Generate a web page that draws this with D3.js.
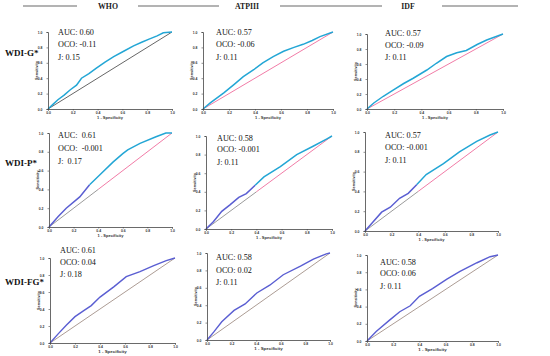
<!DOCTYPE html>
<html><head><meta charset="utf-8">
<script src="https://cdn.jsdelivr.net/npm/d3@7/dist/d3.min.js"></script>
<style>
html,body{margin:0;padding:0;background:#fff;}
svg{display:block;}
.ann{font-family:"Liberation Serif","DejaVu Serif",serif;font-size:8.2px;fill:#111;white-space:pre;}
.tick text{font-family:"Liberation Sans",Arial,sans-serif;font-size:3.4px;font-weight:bold;fill:#333;}
.lab{font-family:"Liberation Sans",Arial,sans-serif;font-weight:bold;fill:#333;}
</style></head><body>
<script>
// ---------- data ----------
const columns = ["WHO", "ATPIII", "IDF"];
const rowLabels = ["WDI-G*", "WDI-P*", "WDI-FG*"];
const aucLabels = [["AUC: 0.60","AUC: 0.57","AUC: 0.57"],["AUC:  0.61","AUC: 0.58","AUC: 0.57"],["AUC: 0.61","AUC: 0.58","AUC: 0.58"]];
const ocoLabels = [["OCO: -0.11","OCO: -0.06","OCO: -0.09"],["OCO:  -0.001","OCO: -0.001","OCO: -0.001"],["OCO: 0.04","OCO: 0.02","OCO: 0.06"]];
const jLabels   = [["J: 0.15","J: 0.11","J: 0.11"],["J:  0.17","J: 0.11","J: 0.11"],["J: 0.18","J: 0.11","J: 0.11"]];
const tickValues = [0, 0.2, 0.4, 0.6, 0.8, 1.0];

// ROC curves: [1 - specificity, sensitivity]
const rocG_WHO    = [[0,0],[0.04,0.06],[0.08,0.12],[0.13,0.18],[0.18,0.25],[0.23,0.31],[0.27,0.40],[0.33,0.46],[0.39,0.53],[0.46,0.61],[0.53,0.68],[0.61,0.75],[0.69,0.82],[0.76,0.87],[0.82,0.91],[0.88,0.95],[0.93,0.99],[1,1]];
const rocG_ATPIII = [[0,0],[0.056,0.08],[0.16,0.21],[0.24,0.32],[0.31,0.42],[0.39,0.51],[0.46,0.60],[0.54,0.68],[0.62,0.75],[0.70,0.80],[0.77,0.84],[0.84,0.89],[0.90,0.94],[1,1]];
const rocG_IDF    = [[0,0],[0.05,0.08],[0.12,0.17],[0.195,0.255],[0.27,0.34],[0.34,0.41],[0.44,0.52],[0.51,0.61],[0.585,0.70],[0.66,0.75],[0.73,0.78],[0.81,0.86],[0.88,0.92],[1,1]];
const rocP_WHO    = [[0,0],[0.073,0.11],[0.14,0.20],[0.25,0.32],[0.33,0.45],[0.41,0.55],[0.52,0.69],[0.60,0.78],[0.64,0.82],[0.74,0.89],[0.87,0.96],[0.95,1.0],[1,1]];
const rocP_ATPIII = [[0,0],[0.06,0.08],[0.125,0.19],[0.19,0.26],[0.26,0.34],[0.32,0.38],[0.39,0.47],[0.46,0.56],[0.59,0.67],[0.72,0.80],[0.85,0.89],[0.96,0.97],[1,1]];
const rocP_IDF    = [[0,0],[0.06,0.09],[0.125,0.19],[0.19,0.24],[0.26,0.33],[0.325,0.38],[0.39,0.47],[0.46,0.57],[0.59,0.68],[0.71,0.80],[0.84,0.905],[0.94,0.97],[1,1]];
const rocFG_WHO   = [[0,0],[0.067,0.11],[0.13,0.21],[0.20,0.31],[0.27,0.38],[0.33,0.44],[0.40,0.54],[0.51,0.66],[0.61,0.78],[0.72,0.84],[0.83,0.91],[0.93,0.97],[1,1]];
const rocFG_ATPIII= [[0,0],[0.054,0.09],[0.12,0.21],[0.22,0.34],[0.31,0.415],[0.405,0.54],[0.51,0.63],[0.62,0.75],[0.76,0.85],[0.865,0.93],[0.97,0.99],[1,1]];
const rocFG_IDF   = [[0,0],[0.07,0.11],[0.17,0.24],[0.25,0.34],[0.33,0.41],[0.40,0.52],[0.50,0.61],[0.61,0.72],[0.71,0.81],[0.84,0.91],[0.94,0.98],[1,1]];
const rocCurves = [[rocG_WHO,rocG_ATPIII,rocG_IDF],[rocP_WHO,rocP_ATPIII,rocP_IDF],[rocFG_WHO,rocFG_ATPIII,rocFG_IDF]];
const reference = [[0,0],[1,1]];

// ---------- layout ----------
const W = 550, H = 356;
const frames = [
  [{x0:48,x1:172,t:32,b:109},{x0:203,x1:333,t:32,b:109},{x0:367,x1:503,t:34,b:109}],
  [{x0:49,x1:172,t:133,b:227},{x0:206,x1:332,t:136,b:229},{x0:365,x1:498,t:132,b:231}],
  [{x0:50,x1:175,t:258,b:343},{x0:207,x1:330,t:253,b:340},{x0:367,x1:498,t:255,b:341}]
];
const annPos = [
  [{x:58,y:[35,47,60]},{x:216,y:[35,47,60]},{x:385,y:[36,48,60]}],
  [{x:58,y:[138,151,164]},{x:217,y:[141,152,165]},{x:385,y:[138,150,163]}],
  [{x:60,y:[253,265,277]},{x:216,y:[260,273,285]},{x:380,y:[265,276,289]}]
];
const rowLabelY = [56, 166, 285];
const CYAN = "#23a6d5", PURPLE = "#5a5ed2", PINK = "#ef6c9c", GREY = "#555", TAUPE = "#a39188", LGREY = "#8f8f8f";

const svg = d3.select("body").append("svg").attr("width", W).attr("height", H);

// header
const headerLines = [[23,77],[138,219],[280,382],[442,518]];
svg.selectAll("line.hdr").data(headerLines).join("line").attr("class","hdr")
  .attr("x1",d=>d[0]).attr("x2",d=>d[1]).attr("y1",6).attr("y2",6)
  .attr("stroke","#9a9a9a").attr("stroke-width",1.3);
const headerX = [108, 247, 408];
svg.selectAll("text.hdr").data(columns).join("text").attr("class","hdr")
  .attr("x",(d,i)=>headerX[i]).attr("y",8.8).attr("text-anchor","middle")
  .attr("font-family","Liberation Serif, serif").attr("font-weight","bold").attr("font-size",7.8).attr("fill","#222")
  .text(d=>d);

// row labels
svg.selectAll("text.row").data(rowLabels).join("text").attr("class","row")
  .attr("x",5).attr("y",(d,i)=>rowLabelY[i])
  .attr("font-family","Liberation Serif, serif").attr("font-weight","bold").attr("font-size",9).attr("fill","#111")
  .text(d=>d);

function drawPanel(r, c) {
  const f = frames[r][c];
  const x = d3.scaleLinear().domain([0,1]).range([f.x0, f.x1]);
  const y = d3.scaleLinear().domain([0,1]).range([f.b, f.t]);
  const g = svg.append("g");
  const line = d3.line().x(d=>x(d[0])).y(d=>y(d[1]));

  const pts = rocCurves[r][c];
  if (r === 0) {
    g.append("path").attr("d", line(reference)).attr("fill","none").attr("stroke", c===0?GREY:PINK).attr("stroke-width",0.9);
    g.append("path").attr("d", line(pts)).attr("fill","none").attr("stroke", CYAN).attr("stroke-width",1.5);
  } else if (r === 1) {
    const split = c === 0 ? 0.33 : 0.39;
    g.append("path").attr("d", line([[0,0],[0.4,0.4]])).attr("fill","none").attr("stroke", LGREY).attr("stroke-width",0.9);
    g.append("path").attr("d", line([[0.4,0.4],[1,1]])).attr("fill","none").attr("stroke", PINK).attr("stroke-width",0.9);
    const a = pts.filter(p=>p[0]<=split), b = pts.filter(p=>p[0]>=split);
    g.append("path").attr("d", line(a)).attr("fill","none").attr("stroke", PURPLE).attr("stroke-width",1.5);
    g.append("path").attr("d", line(b)).attr("fill","none").attr("stroke", CYAN).attr("stroke-width",1.5);
  } else {
    g.append("path").attr("d", line(reference)).attr("fill","none").attr("stroke", TAUPE).attr("stroke-width",0.9);
    g.append("path").attr("d", line(pts)).attr("fill","none").attr("stroke", PURPLE).attr("stroke-width",1.4);
  }

  const ax = g.append("g").attr("transform",`translate(0,${f.b})`)
    .call(d3.axisBottom(x).tickValues(tickValues).tickFormat(d3.format(".1f")).tickSize(1.5).tickPadding(1.5));
  const ay = g.append("g").attr("transform",`translate(${f.x0},0)`)
    .call(d3.axisLeft(y).tickValues(tickValues).tickFormat(d3.format(".1f")).tickSize(1.5).tickPadding(4));
  [ax, ay].forEach(a => { a.select(".domain").attr("stroke","#444").attr("stroke-width",0.8); a.selectAll(".tick line").attr("stroke","#444").attr("stroke-width",0.6); });

  g.append("text").attr("class","lab").attr("font-size", r===2?4.4:4)
    .attr("x",(f.x0+f.x1)/2).attr("y",f.b+10).attr("text-anchor","middle").text("1 - Specificity");
  g.append("text").attr("class","lab").attr("font-size",3.8)
    .attr("transform",`translate(${f.x0-10},${(f.t+f.b)/2}) rotate(-90)`).attr("text-anchor","middle").text("Sensitivity");

  const p = annPos[r][c];
  [aucLabels[r][c], ocoLabels[r][c], jLabels[r][c]].forEach((t,i) => {
    g.append("text").attr("class","ann").attr("x",p.x).attr("y",p.y[i]).text(t);
  });
}

for (let r = 0; r < 3; r++) for (let c = 0; c < 3; c++) drawPanel(r, c);
</script>
</body></html>
